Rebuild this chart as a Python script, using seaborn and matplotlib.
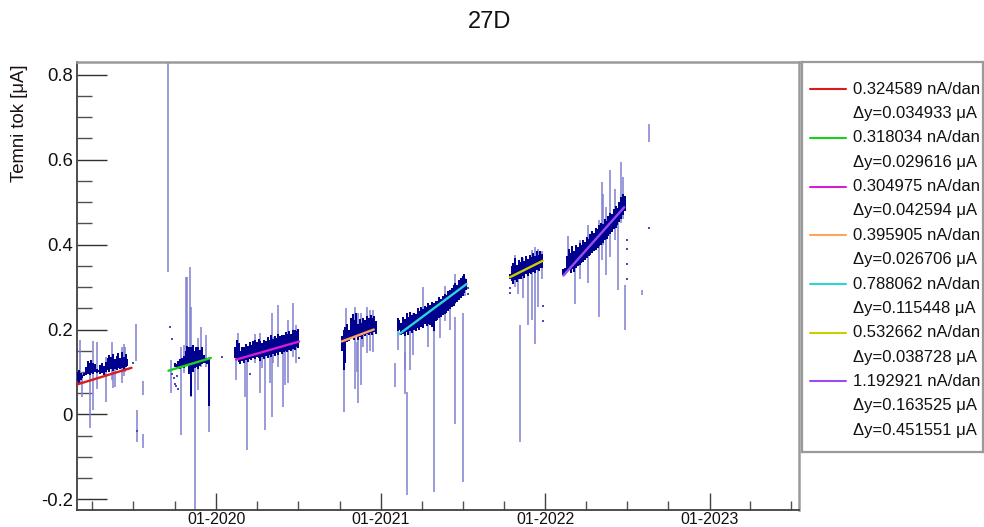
import numpy as np
import pandas as pd
import matplotlib
matplotlib.use("Agg")
import matplotlib.pyplot as plt
import matplotlib.dates as mdates
from matplotlib.ticker import MultipleLocator, FuncFormatter
import seaborn as sns

# ---------------------------------------------------------------- data
title = "27D"
y_label = "Temni tok [μA]"

# linear fits of the dark current for each measurement period
fit_start = ["2019-02-26", "2019-09-17", "2020-02-14", "2020-10-06",
             "2021-02-10", "2021-10-14", "2022-02-10"]
fit_end = ["2019-06-27", "2019-12-20", "2020-07-03", "2020-12-16",
           "2021-07-10", "2021-12-26", "2022-06-25"]
fit_y0 = [0.0706, 0.103, 0.129, 0.172, 0.189, 0.323, 0.327]          # μA
fit_slope = [0.324589, 0.318034, 0.304975, 0.395905,
             0.788062, 0.532662, 1.192921]                           # nA/dan
fit_dy = [0.034933, 0.029616, 0.042594, 0.026706,
          0.115448, 0.038728, 0.163525]                              # μA
total_dy = 0.451551
fit_colors = ["#d81c1c", "#18d018", "#d21ed2", "#ffa45c",
              "#2ed4d4", "#cccc00", "#9a4cf2"]

# dense daily ranges (min/max) sampled every 4 days in each period
core_step_days = 4
core_start = ["2019-02-26", "2019-10-01", "2020-02-12", "2020-10-06",
              "2021-02-07", "2021-10-14", "2022-02-10"]
core_lo = [
    [0.078, 0.074, 0.080, 0.086, 0.090, 0.094, 0.096, 0.094, 0.098, 0.095,
     0.100, 0.098, 0.099, 0.096, 0.098, 0.094, 0.100, 0.104, 0.100, 0.106,
     0.102, 0.108, 0.104, 0.110, 0.106, 0.110, 0.108, 0.112, 0.114],
    [0.112, 0.108, 0.110, 0.106, 0.112, 0.110, 0.114, 0.118, 0.096, 0.044,
     0.100, 0.110, 0.112, 0.106, 0.114, 0.118, 0.120, 0.122, 0.118, 0.020],
    [0.132, 0.128, 0.124, 0.118, 0.126, 0.120, 0.128, 0.124, 0.130, 0.128,
     0.134, 0.130, 0.136, 0.132, 0.126, 0.136, 0.130, 0.138, 0.134, 0.140,
     0.136, 0.142, 0.138, 0.144, 0.140, 0.146, 0.142, 0.148, 0.150, 0.146,
     0.152, 0.150, 0.154, 0.152, 0.158, 0.156],
    [0.150, 0.104, 0.120, 0.170, 0.172, 0.180, 0.182, 0.176, 0.184, 0.176,
     0.182, 0.178, 0.186, 0.184, 0.190, 0.186, 0.192, 0.188, 0.194, 0.190],
    [0.196, 0.200, 0.186, 0.190, 0.184, 0.194, 0.188, 0.196, 0.192, 0.200,
     0.196, 0.204, 0.200, 0.206, 0.204, 0.212, 0.208, 0.214, 0.210, 0.206,
     0.196, 0.220, 0.222, 0.226, 0.230, 0.234, 0.236, 0.240, 0.244, 0.248,
     0.252, 0.256, 0.262, 0.264, 0.270, 0.274, 0.280, 0.286, 0.294],
    [0.318, 0.314, 0.308, 0.316, 0.312, 0.320, 0.318, 0.326, 0.322, 0.330,
     0.326, 0.332, 0.330, 0.336, 0.334, 0.340, 0.338, 0.344, 0.346],
    [0.328, 0.330, 0.336, 0.340, 0.334, 0.342, 0.336, 0.346, 0.350, 0.352,
     0.356, 0.360, 0.364, 0.368, 0.372, 0.376, 0.380, 0.384, 0.388, 0.392,
     0.396, 0.400, 0.404, 0.410, 0.414, 0.420, 0.424, 0.430, 0.436, 0.440,
     0.446, 0.454, 0.460, 0.470, 0.478],
]
core_hi = [
    [0.100, 0.104, 0.098, 0.094, 0.098, 0.112, 0.126, 0.122, 0.128, 0.120,
     0.118, 0.106, 0.104, 0.116, 0.120, 0.114, 0.124, 0.132, 0.140, 0.136,
     0.142, 0.130, 0.138, 0.144, 0.134, 0.146, 0.136, 0.142, 0.130],
    [0.122, 0.118, 0.126, 0.130, 0.134, 0.138, 0.150, 0.162, 0.158, 0.160,
     0.164, 0.150, 0.158, 0.160, 0.152, 0.158, 0.140, 0.134, 0.130, 0.134],
    [0.160, 0.176, 0.168, 0.150, 0.158, 0.160, 0.166, 0.162, 0.170, 0.164,
     0.172, 0.176, 0.170, 0.178, 0.174, 0.168, 0.176, 0.172, 0.182, 0.176,
     0.186, 0.178, 0.184, 0.180, 0.190, 0.184, 0.188, 0.186, 0.194, 0.190,
     0.196, 0.190, 0.198, 0.200, 0.196, 0.202],
    [0.185, 0.200, 0.206, 0.212, 0.200, 0.226, 0.236, 0.222, 0.238, 0.214,
     0.224, 0.216, 0.228, 0.222, 0.232, 0.226, 0.234, 0.226, 0.232, 0.220],
    [0.226, 0.222, 0.216, 0.230, 0.224, 0.238, 0.230, 0.242, 0.234, 0.240,
     0.236, 0.250, 0.244, 0.254, 0.248, 0.256, 0.252, 0.262, 0.258, 0.264,
     0.262, 0.268, 0.266, 0.276, 0.272, 0.280, 0.284, 0.282, 0.290, 0.294,
     0.298, 0.304, 0.310, 0.306, 0.316, 0.322, 0.326, 0.330, 0.320],
    [0.330, 0.350, 0.356, 0.368, 0.352, 0.364, 0.358, 0.370, 0.362, 0.372,
     0.366, 0.376, 0.370, 0.380, 0.374, 0.384, 0.376, 0.386, 0.378],
    [0.342, 0.346, 0.372, 0.390, 0.380, 0.396, 0.386, 0.400, 0.394, 0.404,
     0.398, 0.410, 0.406, 0.418, 0.414, 0.426, 0.432, 0.428, 0.440, 0.436,
     0.446, 0.452, 0.448, 0.460, 0.456, 0.468, 0.474, 0.472, 0.484, 0.490,
     0.486, 0.500, 0.512, 0.520, 0.514],
]

# individual readings with a wide min/max range
spike_day = [
    # 2019 spring
    "2019-03-05", "2019-03-09", "2019-03-26", "2019-04-02", "2019-04-12",
    "2019-05-02", "2019-05-14", "2019-05-18", "2019-05-21", "2019-06-05",
    "2019-06-10", "2019-06-12", "2019-07-06", "2019-07-09", "2019-07-23",
    "2019-07-23",
    # 2019 autumn
    "2019-09-15", "2019-09-22", "2019-10-14", "2019-10-22", "2019-10-27",
    "2019-10-28", "2019-11-03", "2019-11-07", "2019-11-15", "2019-11-22",
    "2019-11-29", "2019-12-10", "2019-12-17",
    # 2020 spring
    "2020-02-13", "2020-02-18", "2020-03-04", "2020-03-10", "2020-03-27",
    "2020-04-07", "2020-04-11", "2020-04-18", "2020-04-29", "2020-05-03",
    "2020-05-07", "2020-05-18", "2020-05-29", "2020-06-02", "2020-06-09",
    "2020-06-20", "2020-06-27",
    # 2020 autumn
    "2020-10-11", "2020-10-16", "2020-11-04", "2020-11-08", "2020-11-11",
    "2020-11-17", "2020-11-22", "2020-11-30", "2020-12-07", "2020-12-15",
    # 2021 spring
    "2021-02-01", "2021-02-08", "2021-02-23", "2021-02-24", "2021-02-28",
    "2021-03-06", "2021-03-13", "2021-04-04", "2021-04-15", "2021-04-28",
    "2021-05-12", "2021-05-23", "2021-06-03", "2021-06-14", "2021-06-15",
    "2021-07-01", "2021-07-06",
    # 2021 autumn
    "2021-10-26", "2021-11-02", "2021-11-06", "2021-11-13", "2021-11-24",
    "2021-12-02", "2021-12-09", "2021-12-16", "2021-12-24",
    # 2022
    "2022-02-21", "2022-03-08", "2022-03-19", "2022-04-06", "2022-04-30",
    "2022-05-06", "2022-05-09", "2022-05-15", "2022-05-25", "2022-06-05",
    "2022-06-12", "2022-06-17", "2022-06-23", "2022-06-27", "2022-08-03",
    "2022-08-20",
]
spike_lo = [
    0.074, 0.041, -0.032, 0.010, 0.060,
    0.030, 0.080, 0.062, 0.065, 0.074,
    0.090, 0.100, 0.125, -0.065, 0.045,
    -0.078,
    0.336, 0.050, -0.049, 0.097, 0.140,
    0.128, 0.128, 0.041, -0.300, 0.057,
    0.112, 0.112, -0.041,
    0.081, 0.150, 0.041, -0.084, 0.120,
    0.050, 0.110, -0.037, 0.075, -0.006,
    0.120, 0.112, 0.018, 0.069, 0.074,
    0.136, 0.120,
    0.006, 0.200, 0.061, 0.100, 0.026,
    0.070, 0.160, 0.144, 0.150, 0.147,
    0.064, 0.151, 0.104, 0.049, -0.190,
    0.104, 0.140, 0.206, 0.160, -0.182,
    0.180, 0.220, 0.200, -0.023, 0.260,
    -0.158, 0.280,
    0.300, 0.283, -0.064, 0.275, 0.210,
    0.222, 0.167, 0.253, 0.320,
    0.352, 0.261, 0.320, 0.309, 0.230,
    0.363, 0.400, 0.328, 0.371, 0.410,
    0.292, 0.450, 0.460, 0.198, 0.281,
    0.641,
]
spike_hi = [
    0.176, 0.100, 0.112, 0.172, 0.170,
    0.136, 0.171, 0.142, 0.120, 0.159,
    0.165, 0.159, 0.213, 0.010, 0.079,
    -0.047,
    0.900, 0.128, 0.159, 0.163, 0.324,
    0.324, 0.347, 0.253, 0.128, 0.180,
    0.206, 0.187, 0.136,
    0.159, 0.191, 0.136, 0.128, 0.190,
    0.191, 0.150, 0.159, 0.175, 0.238,
    0.182, 0.257, 0.183, 0.150, 0.222,
    0.262, 0.210,
    0.151, 0.250, 0.253, 0.170, 0.238,
    0.238, 0.220, 0.253, 0.245, 0.245,
    0.120, 0.199, 0.222, 0.147, 0.053,
    0.198, 0.240, 0.300, 0.262, 0.199,
    0.260, 0.302, 0.290, 0.230, 0.330,
    0.238, 0.322,
    0.375, 0.350, 0.210, 0.368, 0.363,
    0.387, 0.394, 0.390, 0.385,
    0.420, 0.371, 0.410, 0.445, 0.457,
    0.547, 0.520, 0.489, 0.575, 0.530,
    0.480, 0.594, 0.560, 0.304, 0.294,
    0.685,
]

# isolated single readings
dot_day = ["2019-07-01", "2019-07-09", "2019-09-20", "2019-09-24", "2019-09-26",
           "2019-09-29", "2019-10-01", "2019-10-03", "2019-10-06", "2019-10-09",
           "2020-01-15", "2020-03-15", "2020-07-03", "2021-07-13", "2021-07-13",
           "2021-10-14", "2021-10-14", "2021-12-26", "2021-12-26", "2022-07-01",
           "2022-07-01", "2022-07-01", "2022-07-01", "2022-08-20"]
dot_val = [0.121, -0.040, 0.206, 0.178, 0.095,
           0.085, 0.072, 0.066, 0.090, 0.060,
           0.136, 0.095, 0.133, 0.283, 0.298,
           0.297, 0.285, 0.255, 0.220, 0.412,
           0.390, 0.355, 0.318, 0.440]

x_range = ["2019-02-26", "2023-07-18"]
y_range = [-0.225, 0.83]

# ---------------------------------------------------------------- style
sns.set_theme(style="white")
plt.rcParams["font.family"] = ["Liberation Sans", "DejaVu Sans"]
plt.rcParams["axes.unicode_minus"] = False

W, H = 984, 527
fig = plt.figure(figsize=(W / 100, H / 100), dpi=100)
fig.patch.set_facecolor("white")
ax = fig.add_axes([77 / W, 1 - 510 / H, 722 / W, 448 / H])

spike_color = "#8080d2"
core_color = "#00008e"

# wide-range readings
ax.vlines(pd.to_datetime(spike_day), spike_lo, spike_hi,
          color=spike_color, lw=1.1, zorder=2)

# dense daily ranges
for start, lo, hi in zip(core_start, core_lo, core_hi):
    days = pd.date_range(start, periods=len(lo), freq=f"{core_step_days}D")
    ax.vlines(days, lo, hi, color=core_color, lw=1.45, zorder=3)

# isolated readings
dots = pd.DataFrame({"day": pd.to_datetime(dot_day), "val": dot_val})
sns.scatterplot(data=dots, x="day", y="val", marker="s", s=2,
                color="#4a4ac0", linewidth=0, ax=ax, zorder=3, legend=False)

# linear fits
rows = []
for i, (s, e, y0, k) in enumerate(zip(fit_start, fit_end, fit_y0, fit_slope)):
    d0, d1 = pd.Timestamp(s), pd.Timestamp(e)
    ndays = (d1 - d0).days
    rows.append({"period": i, "day": d0, "val": y0})
    rows.append({"period": i, "day": d1, "val": y0 + k * 1e-3 * ndays})
fits = pd.DataFrame(rows)
sns.lineplot(data=fits, x="day", y="val", hue="period", palette=fit_colors,
             estimator=None, lw=1.7, legend=False, ax=ax, zorder=4)

# axes
ax.set_xlim(pd.Timestamp(x_range[0]), pd.Timestamp(x_range[1]))
ax.set_ylim(*y_range)
ax.set_xlabel("")
ax.set_ylabel(y_label, fontsize=13.3, color="#1a1010")
ax.yaxis.set_label_coords(-0.068, 0.864)

ax.xaxis.set_major_locator(mdates.MonthLocator(bymonth=[1]))
ax.xaxis.set_minor_locator(mdates.MonthLocator(bymonth=[4, 7, 10]))
ax.xaxis.set_major_formatter(mdates.DateFormatter("%m-%Y"))
ax.yaxis.set_major_locator(MultipleLocator(0.2))
ax.yaxis.set_minor_locator(MultipleLocator(0.05))
ax.yaxis.set_major_formatter(FuncFormatter(
    lambda v, _: "0" if abs(v) < 1e-9 else f"{v:g}"))

ax.tick_params(axis="y", which="major", direction="in", length=21.5,
               width=1.0, color="#303030", labelsize=13.3, pad=3,
               labelcolor="#111111", left=True)
ax.tick_params(axis="y", which="minor", direction="in", length=10.8,
               width=1.0, color="#505050", left=True)
ax.tick_params(axis="x", which="major", direction="in", length=12.2,
               width=1.0, color="#404040", labelsize=11.5, pad=1.5,
               labelcolor="#111111", bottom=True)
ax.tick_params(axis="x", which="minor", direction="in", length=6.5,
               width=1.0, color="#505050", bottom=True)

for side in ("left", "bottom"):
    ax.spines[side].set_color("#404040")
    ax.spines[side].set_linewidth(1.3)
for side in ("top", "right"):
    ax.spines[side].set_color("#9a9a9a")
    ax.spines[side].set_linewidth(1.8)
ax.grid(False)

fig.suptitle(title, x=0.498, y=1 - 22 / H, va="center", fontsize=17,
             color="#111111")

# ---------------------------------------------------------------- legend box
lax = fig.add_axes([802 / W, 1 - 452 / H, 181 / W, 390 / H])
lax.set_xlim(802, 983)
lax.set_ylim(452, 62)
lax.set_xticks([])
lax.set_yticks([])
for sp in lax.spines.values():
    sp.set_color("#9a9a9a")
    sp.set_linewidth(1.6)

row0, row_gap = 89.3, 24.34
labels = []
for k, dy, c in zip(fit_slope, fit_dy, fit_colors):
    labels.append((f"{k:.6f} nA/dan", c))
    labels.append((f"Δy={dy:.6f} μA", None))
labels.append((f"Δy={total_dy:.6f} μA", None))
for r, (txt, c) in enumerate(labels):
    y = row0 + r * row_gap
    if c is not None:
        lax.plot([810, 846], [y, y], color=c, lw=1.5)
    lax.text(853, y, txt, fontsize=12, va="center", ha="left",
             color="#111111")

fig.savefig("out.png", dpi=100, facecolor="white")
